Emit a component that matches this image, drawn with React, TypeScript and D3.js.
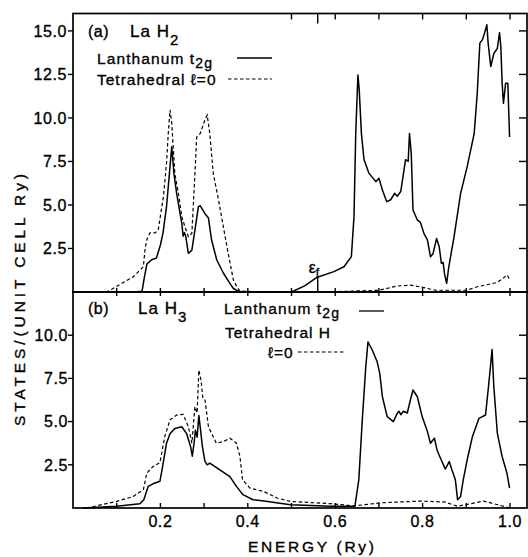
import React from "react";
import * as d3 from "d3";

// ---------- data (energy in Ry, DOS in states/(unit cell Ry)) ----------
const laH2T2gE = [0.14,0.158,0.163,0.169,0.18,0.191,0.2,0.206,0.214,0.222,0.226,0.231,0.237,0.245,0.249,0.252,0.255,0.258,0.264,0.272,0.279,0.287,0.291,0.302,0.31,0.317,0.329,0.344,0.359,0.367,0.38,0.5,0.53,0.559,0.597,0.62,0.637,0.643,0.647,0.652,0.655,0.66,0.666,0.677,0.693,0.7,0.708,0.718,0.727,0.736,0.742,0.75,0.761,0.767,0.77,0.774,0.778,0.788,0.795,0.803,0.811,0.818,0.824,0.832,0.838,0.843,0.847,0.85,0.855,0.86,0.872,0.887,0.902,0.918,0.925,0.931,0.937,0.942,0.947,0.95,0.956,0.963,0.971,0.976,0.979,0.982,0.985,0.99,0.995,0.999];
const laH2T2gV = [0,0.05,0.8,1.6,1.85,1.95,2.7,3.4,4.9,7.2,8.35,6.8,5.7,4.5,3.95,3.2,3.4,3.2,2.22,2.4,3.56,4.9,4.96,4.5,4.25,3.0,1.84,1.09,0.5,0.2,0.02,0,0.35,0.85,1.17,1.45,2.03,4.33,9.1,12.47,11.6,9.1,7.6,6.83,6.34,6.53,5.86,5.19,5.3,5.67,5.5,5.77,7.6,7.5,9.1,7.97,4.71,4.14,4.0,3.37,2.99,2.03,2.2,3.08,2.6,1.65,1.7,1.07,0.5,1.45,3.18,5.67,7.2,9.1,11.4,14.3,14.5,14.9,15.35,14.3,12.95,13.7,14.0,14.9,14.1,12.0,10.84,12.0,12.0,8.9];

const laH2TetE = [0.075,0.085,0.138,0.161,0.165,0.169,0.176,0.188,0.195,0.207,0.214,0.218,0.222,0.226,0.233,0.241,0.249,0.256,0.264,0.272,0.279,0.283,0.291,0.302,0.307,0.313,0.321,0.333,0.344,0.355,0.367,0.375,0.382,0.45,0.6,0.7,0.741,0.773,0.803,0.83,0.9,0.925,0.971,0.994,0.999];
const laH2TetV = [0,0.1,0.88,1.45,2.5,3.0,3.4,3.4,3.56,5.5,7.4,9.1,10.46,9.7,6.8,5.7,4.33,3.75,3.18,3.37,6.8,8.9,9.1,9.9,10.17,9.1,6.8,5.3,3.75,2.24,0.69,0.3,0.05,0,0.02,0.1,0.34,0.4,0.25,0.1,0.1,0.3,0.55,0.98,0.7];

const laH3T2gE = [0.023,0.1,0.153,0.162,0.172,0.183,0.199,0.205,0.214,0.222,0.233,0.249,0.26,0.269,0.273,0.277,0.28,0.284,0.288,0.292,0.296,0.302,0.307,0.313,0.336,0.359,0.374,0.389,0.412,0.437,0.498,0.59,0.643,0.645,0.654,0.662,0.67,0.675,0.685,0.696,0.702,0.708,0.719,0.733,0.742,0.746,0.75,0.756,0.765,0.772,0.778,0.788,0.799,0.811,0.818,0.827,0.833,0.841,0.852,0.861,0.867,0.875,0.88,0.887,0.893,0.902,0.914,0.929,0.944,0.95,0.956,0.959,0.963,0.971,0.982,0.993,0.999];
const laH3T2gV = [0,0.1,0.25,0.48,1.25,1.4,1.55,2.4,3.75,4.3,4.6,4.7,4.3,3.56,3.0,3.75,4.5,4.1,5.35,4.5,3.56,2.7,2.5,2.6,2.2,1.82,1.25,0.77,0.48,0.4,0.19,0.1,0.1,0.1,1.63,5.1,8.17,9.61,9.13,8.46,7.79,6.44,5.29,5.0,5.48,5.6,5.4,5.6,5.5,6.25,6.83,6.44,5.29,4.42,3.75,4.04,3.36,2.88,2.25,2.69,2.21,1.63,0.48,0.67,1.63,2.79,4.13,5.19,5.38,6.83,8.37,9.17,7.02,4.33,2.98,2.02,1.15];

const laH3TetE = [0.031,0.1,0.138,0.161,0.169,0.183,0.199,0.21,0.222,0.237,0.252,0.264,0.272,0.279,0.284,0.288,0.293,0.297,0.302,0.31,0.317,0.328,0.344,0.359,0.374,0.382,0.388,0.405,0.436,0.467,0.498,0.59,0.643,0.704,0.795,0.85,0.88,0.94,0.97,1.0];
const laH3TetV = [0,0.38,0.67,1.06,2.02,2.4,2.63,4.13,5.1,5.38,5.42,4.71,3.75,5.86,5.5,7.98,7.4,6.35,6.25,4.71,4.33,3.75,3.84,4.04,3.75,2.98,1.63,1.15,0.96,0.58,0.38,0.25,0.12,0.3,0.4,0.35,0.1,0.4,0.2,0];

const xTickLabels = [0.2, 0.4, 0.6, 0.8, 1.0];
const xTicksAll = [0.1, 0.2, 0.3, 0.4, 0.5, 0.6, 0.7, 0.8, 0.9, 1.0];
const xTicksTopBorder = [0.5, 0.6, 0.7, 0.8, 0.9, 1.0];
const yTicksTop = [2.5, 5.0, 7.5, 10.0, 12.5, 15.0];
const yTicksBot = [2.5, 5.0, 7.5, 10.0];
const fermiE = 0.56;

const FONT = "'Liberation Sans', Arial, sans-serif";

export default function App() {
  const L = 73, R = 527;
  const x = d3.scaleLinear().domain([0, 1.0]).range([73, 510]);
  const yTop = d3.scaleLinear().domain([0, 16]).range([292, 13.5]);
  const yBot = d3.scaleLinear().domain([0, 12.5]).range([508, 292]);

  const mk = (ys: d3.ScaleLinear<number, number>, E: number[], V: number[]) =>
    d3.line<number>().x((_, i) => x(E[i])).y((_, i) => ys(V[i]))(E.map((_, i) => i)) || "";

  const fermiV = d3.scaleLinear().domain(laH2T2gE).range(laH2T2gV)(fermiE);

  const fmt = (v: number) => v.toFixed(1);
  const tickStyle = { stroke: "#000", strokeWidth: 1.4 };
  const txt = { stroke: "#000", strokeWidth: 0.35 };

  return (
    <svg width={528} height={557} style={{ position: "absolute", left: 0, top: 0, background: "#fff" }} fontFamily={FONT}>
      <rect x={0} y={0} width={528} height={557} fill="#fff" />
      <rect x={L} y={yTop(16)} width={R - L} height={yTop(0) - yTop(16)} fill="none" stroke="#000" strokeWidth={1.7} />
      <rect x={L} y={yBot(12.5)} width={R - L} height={yBot(0) - yBot(12.5)} fill="none" stroke="#000" strokeWidth={1.7} />

      <g {...txt}>
        {yTicksTop.map((t) => (
          <g key={"yt" + t}>
            <line x1={L - 5} x2={L} y1={yTop(t)} y2={yTop(t)} {...tickStyle} />
            <line x1={R - 8} x2={R} y1={yTop(t)} y2={yTop(t)} {...tickStyle} />
            <text x={L - 6} y={yTop(t)} dy="0.36em" textAnchor="end" fontSize={16} letterSpacing={0.6}>{fmt(t)}</text>
          </g>
        ))}
        {yTicksBot.map((t) => (
          <g key={"yb" + t}>
            <line x1={L - 5} x2={L} y1={yBot(t)} y2={yBot(t)} {...tickStyle} />
            <line x1={R - 8} x2={R} y1={yBot(t)} y2={yBot(t)} {...tickStyle} />
            <text x={L - 5} y={yBot(t)} dy="0.36em" textAnchor="end" fontSize={16} letterSpacing={0.6}>{fmt(t)}</text>
          </g>
        ))}
        {xTickLabels.map((t) => (
          <text key={"xl" + t} x={x(t)} y={527} textAnchor="middle" fontSize={16} letterSpacing={0.6}>{fmt(t)}</text>
        ))}
      </g>

      {xTicksTopBorder.map((t) => (
        <line key={"xtb" + t} x1={x(t)} x2={x(t)} y1={yTop(16)} y2={yTop(16) + 6} {...tickStyle} />
      ))}
      <line x1={x(fermiE)} x2={x(fermiE)} y1={yTop(16)} y2={yTop(16) + 10} {...tickStyle} />
      {xTicksAll.map((t) => (
        <g key={"xm" + t}>
          <line x1={x(t)} x2={x(t)} y1={yBot(12.5) - 4} y2={yBot(12.5) + 4} {...tickStyle} />
          <line x1={x(t)} x2={x(t)} y1={yBot(0) - 5} y2={yBot(0)} {...tickStyle} />
        </g>
      ))}

      <line x1={x(fermiE)} x2={x(fermiE)} y1={yTop(0)} y2={yTop(fermiV)} {...tickStyle} />
      <text x={x(fermiE) - 9} y={273} fontSize={16} {...txt}>ε<tspan dy={4} fontSize={12}>f</tspan></text>

      <path d={mk(yTop, laH2T2gE, laH2T2gV)} fill="none" stroke="#000" strokeWidth={1.5} strokeLinejoin="round" />
      <path d={mk(yTop, laH2TetE, laH2TetV)} fill="none" stroke="#000" strokeWidth={1.2} strokeDasharray="3.5,2.5" />
      <path d={mk(yBot, laH3T2gE, laH3T2gV)} fill="none" stroke="#000" strokeWidth={1.5} strokeLinejoin="round" />
      <path d={mk(yBot, laH3TetE, laH3TetV)} fill="none" stroke="#000" strokeWidth={1.2} strokeDasharray="3.5,2.5" />

      <g {...txt}>
        <text x={88} y={37} fontSize={16} letterSpacing={0.5}>(a)</text>
        <text x={130} y={37} fontSize={17} letterSpacing={1}>La H<tspan dy={8} fontSize={15}>2</tspan></text>
        <text x={97} y={64} fontSize={15.5} letterSpacing={1.1}>Lanthanum  t<tspan dy={4} fontSize={14}>2g</tspan></text>
        <text x={97} y={85} fontSize={15.5} letterSpacing={1.0}>Tetrahedral  ℓ=0</text>

        <text x={88} y={314} fontSize={16} letterSpacing={0.5}>(b)</text>
        <text x={138} y={314} fontSize={17} letterSpacing={1}>La H<tspan dy={8} fontSize={15}>3</tspan></text>
        <text x={224} y={314} fontSize={15.5} letterSpacing={1.1}>Lanthanum  t<tspan dy={4} fontSize={14}>2g</tspan></text>
        <text x={225} y={338} fontSize={15.5} letterSpacing={1.0}>Tetrahedral   H</text>
        <text x={268} y={358} fontSize={15.5} letterSpacing={1}>ℓ=0</text>

        <text x={311} y={552} textAnchor="middle" fontSize={15.5} textLength={126} lengthAdjust="spacing">ENERGY   (Ry)</text>
        <text transform="translate(25,300) rotate(-90)" textAnchor="middle" fontSize={15.5} textLength={252} lengthAdjust="spacing">STATES/(UNIT  CELL   Ry)</text>
      </g>
      <line x1={237} x2={272} y1={58} y2={58} stroke="#000" strokeWidth={1.3} />
      <line x1={228} x2={272} y1={79} y2={79} stroke="#000" strokeWidth={1.2} strokeDasharray="3.5,2.5" />
      <line x1={359} x2={384} y1={311} y2={311} stroke="#000" strokeWidth={1.3} />
      <line x1={298} x2={344} y1={352} y2={352} stroke="#000" strokeWidth={1.2} strokeDasharray="3.5,2.5" />
    </svg>
  );
}
